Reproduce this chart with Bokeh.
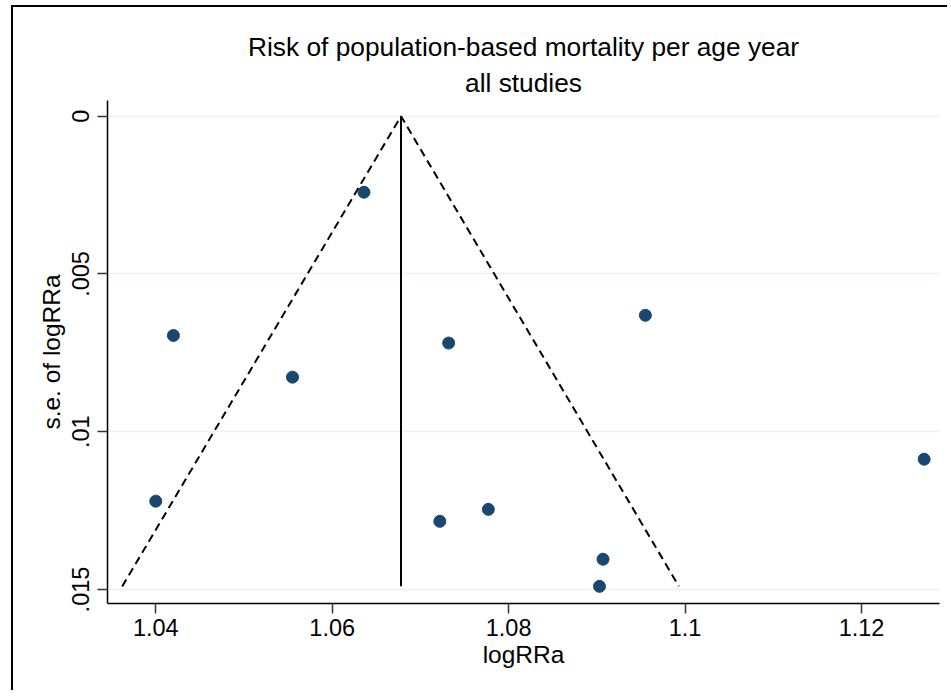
from bokeh.plotting import figure
from bokeh.models import Range1d, FixedTicker, Title
from bokeh.embed import file_html
from bokeh.resources import INLINE

# ---- data ----
effect = [1.0636, 1.0420, 1.0555, 1.0400, 1.0732, 1.0955, 1.1271, 1.0722, 1.0777, 1.0907, 1.0903]
se = [0.00241, 0.00695, 0.00827, 0.01220, 0.00719, 0.00631, 0.01087, 0.01284, 0.01246, 0.01404, 0.01490]
pooled = 1.0678
funnel_x = [1.0362, 1.0678, 1.0993]
funnel_se = [0.0149, 0.0, 0.0149]
x_ticks = [1.04, 1.06, 1.08, 1.10, 1.12]
x_tick_labels = ["1.04", "1.06", "1.08", "1.1", "1.12"]
y_ticks = [0.0, 0.005, 0.01, 0.015]
y_tick_labels = ["0", ".005", ".01", ".015"]

FONT = "Liberation Sans"

p = figure(width=936, height=685, output_backend="svg", toolbar_location=None,
           x_range=Range1d(1.03453, 1.12884), y_range=Range1d(0.015443, -0.000497),
           min_border_left=94, min_border_right=10, min_border_top=93, min_border_bottom=89)
p.styles = {"border-left": "2px solid black", "border-top": "2px solid black",
            "margin-left": "11px", "margin-top": "5px"}
p.outline_line_color = None
p.background_fill_color = "white"
p.border_fill_color = "white"

p.add_layout(Title(text="all studies", align="center", text_font=FONT,
                   text_font_size="26.3px", text_font_style="normal",
                   text_color="black", standoff=5), "above")
p.add_layout(Title(text="Risk of population-based mortality per age year", align="center",
                   text_font=FONT, text_font_size="26.3px", text_font_style="normal",
                   text_color="black", standoff=4), "above")

# funnel and pooled line
p.line(funnel_x, funnel_se, line_color="black", line_width=2, line_dash="8 5")
p.line([pooled, pooled], [funnel_se[1], funnel_se[0]], line_color="black", line_width=2)

p.scatter(effect, se, size=12, fill_color="#1a476f", line_color="#1a476f")

# axes
p.xaxis.ticker = FixedTicker(ticks=x_ticks)
p.xaxis.major_label_overrides = {t: l for t, l in zip(x_ticks, x_tick_labels)}
p.yaxis.ticker = FixedTicker(ticks=y_ticks)
p.yaxis.major_label_overrides = {t: l for t, l in zip(y_ticks, y_tick_labels)}
p.yaxis.major_label_orientation = "vertical"
p.xaxis.axis_label = "logRRa"
p.yaxis.axis_label = "s.e. of logRRa"
for ax in (p.xaxis, p.yaxis):
    ax.axis_line_color = "black"
    ax.axis_line_width = 1.5
    ax.major_tick_line_color = "#333333"
    ax.major_tick_line_width = 1.5
    ax.major_tick_out = 10
    ax.major_tick_in = 0
    ax.minor_tick_line_color = None
    ax.major_label_text_font = FONT
    ax.major_label_text_font_size = "23.5px"
    ax.major_label_text_color = "black"
    ax.axis_label_text_font = FONT
    ax.axis_label_text_font_size = "24.5px"
    ax.axis_label_text_font_style = "normal"
    ax.axis_label_text_color = "black"
p.xaxis.major_label_standoff = 5
p.xaxis.axis_label_standoff = 2
p.yaxis.major_label_standoff = 8
p.yaxis.axis_label_standoff = 5

p.xgrid.grid_line_color = None
p.ygrid.grid_line_color = "#eaf2f3"
p.ygrid.grid_line_width = 1.5

open("out.html", "w").write(file_html(p, INLINE))
